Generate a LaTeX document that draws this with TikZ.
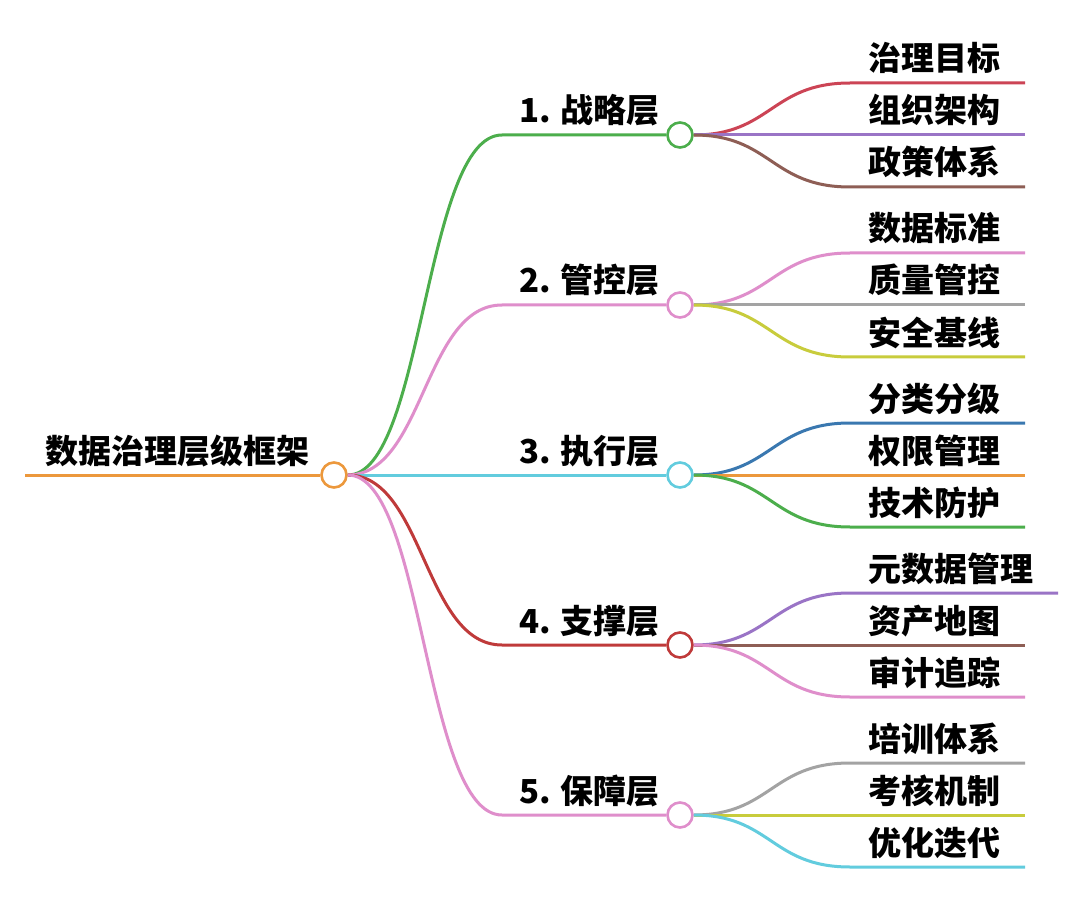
\documentclass[tikz,border=0pt]{standalone}
\usepackage{fontspec}
\setmainfont{Noto Sans CJK SC}
\definecolor{corange}{HTML}{EC983C}
\definecolor{cgreen}{HTML}{4CAE4C}
\definecolor{cpink}{HTML}{DF8ECB}
\definecolor{ccyan}{HTML}{62CCDE}
\definecolor{cdred}{HTML}{BF3A3A}
\definecolor{cred}{HTML}{CC4455}
\definecolor{cpurple}{HTML}{9A74C6}
\definecolor{cbrown}{HTML}{8E5E55}
\definecolor{cgray}{HTML}{A3A3A3}
\definecolor{colive}{HTML}{C8CC3C}
\definecolor{cblue}{HTML}{3A78B0}
\tikzset{
  lnk/.style={line width=3pt},
  dot/.style={circle, draw, line width=2.6pt, fill=white, minimum size=25pt, inner sep=0pt},
  lab/.style={anchor=base west, font=\bfseries\fontsize{33}{33}\selectfont, inner sep=0pt, text=black},
}
\begin{document}
\begin{tikzpicture}[x=1pt,y=-1pt]
\useasboundingbox[fill=white] (0,0) rectangle (1080,920);
% root
\coordinate (r0) at (25,475);
\node[dot, draw=corange] (root) at (334,475) {};
\node[lab] (rt) at (45,463) {数据治理层级框架};
\draw[lnk, corange] (r0) -- (root.west);
% levels
\foreach \i/\y/\c/\t in {1/135/cgreen/1. 战略层, 2/305/cpink/2. 管控层, 3/475/ccyan/3. 执行层, 4/645/cdred/4. 支撑层, 5/815/cpink/5. 保障层} {
  \coordinate (s\i) at (502,\y);
  \node[dot, draw=\c] (m\i) at (680,\y) {};
  \node[lab] (mt\i) at (519,\y-12) {\t};
  \draw[lnk, \c] (root.east) .. controls (424,475) and (424,\y) .. (s\i) -- (m\i.west);
}
% leaves
\foreach \i/\j/\p/\y/\c/\t/\e in {
  1/1/135/83/cred/治理目标/1025, 1/2/135/135/cpurple/组织架构/1025, 1/3/135/187/cbrown/政策体系/1025,
  2/1/305/253/cpink/数据标准/1025, 2/2/305/305/cgray/质量管控/1025, 2/3/305/357/colive/安全基线/1025,
  3/1/475/423/cblue/分类分级/1025, 3/2/475/475/corange/权限管理/1025, 3/3/475/527/cgreen/技术防护/1025,
  4/1/645/593/cpurple/元数据管理/1058, 4/2/645/645/cbrown/资产地图/1025, 4/3/645/697/cpink/审计追踪/1025,
  5/1/815/763/cgray/培训体系/1025, 5/2/815/815/colive/考核机制/1025, 5/3/815/867/ccyan/优化迭代/1025} {
  \coordinate (ls\i\j) at (850,\y);
  \coordinate (le\i\j) at (\e,\y);
  \node[lab] (lt\i\j) at (868,\y-12) {\t};
  \draw[lnk, \c] (m\i.east) .. controls (771,\p) and (771,\y) .. (ls\i\j) -- (le\i\j);
}
\end{tikzpicture}
\end{document}
